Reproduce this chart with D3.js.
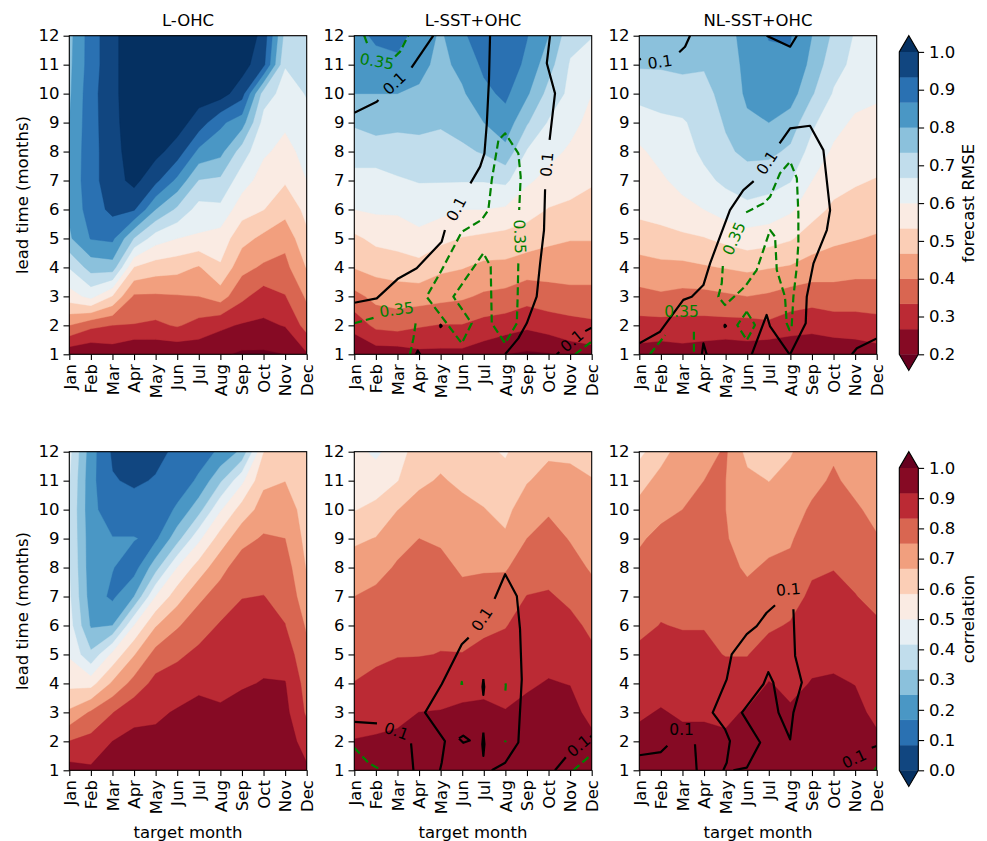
<!DOCTYPE html>
<html>
<head>
<meta charset="utf-8">
<script src="https://cdn.jsdelivr.net/npm/d3@7"></script>
<style>
  body { margin: 0; background: #fff; }
  text { font-family: "DejaVu Sans", sans-serif; fill: #000; }
</style>
</head>
<body>
<div id="chart"></div>
<script>
// ---- data ----
const months = ["Jan", "Feb", "Mar", "Apr", "May", "Jun", "Jul", "Aug", "Sep", "Oct", "Nov", "Dec"];
const leads = [1, 2, 3, 4, 5, 6, 7, 8, 9, 10, 11, 12];
const titles = ["L-OHC", "L-SST+OHC", "NL-SST+OHC"];
const rmseLevels = d3.range(13).map(i => 0.2 + i * 0.8 / 12);
const corrLevels = d3.range(13).map(i => i / 12);
const rmseTicks = [0.2, 0.3, 0.4, 0.5, 0.6, 0.7, 0.8, 0.9, 1.0];
const corrTicks = [0.0, 0.1, 0.2, 0.3, 0.4, 0.5, 0.6, 0.7, 0.8, 0.9, 1.0];

// each grid: one array per target month (Jan..Dec), values for lead 1..12
const rmseL = [
  [0.22, 0.40, 0.57, 0.67, 0.79, 0.81, 0.815, 0.81, 0.80, 0.79, 0.785, 0.78],
  [0.21, 0.35, 0.62, 0.76, 0.87, 0.90, 0.91, 0.91, 0.91, 0.91, 0.90, 0.90],
  [0.23, 0.333, 0.53, 0.77, 0.88, 0.95, 0.97, 0.97, 0.975, 0.98, 0.98, 0.98],
  [0.20, 0.33, 0.39, 0.53, 0.73, 0.94, 1.02, 1.04, 1.05, 1.05, 1.05, 1.05],
  [0.21, 0.32, 0.39, 0.50, 0.63, 0.80, 0.95, 1.02, 1.05, 1.05, 1.05, 1.05],
  [0.21, 0.34, 0.395, 0.49, 0.60, 0.72, 0.85, 0.97, 1.03, 1.05, 1.05, 1.05],
  [0.22, 0.31, 0.40, 0.46, 0.59, 0.64, 0.73, 0.85, 0.97, 1.03, 1.05, 1.05],
  [0.21, 0.28, 0.43, 0.525, 0.57, 0.65, 0.72, 0.82, 0.88, 1.03, 1.05, 1.06],
  [0.19, 0.26, 0.35, 0.42, 0.49, 0.56, 0.63, 0.70, 0.83, 0.96, 1.03, 1.06],
  [0.19, 0.255, 0.30, 0.39, 0.45, 0.535, 0.57, 0.61, 0.64, 0.70, 0.95, 0.975],
  [0.20, 0.27, 0.33, 0.38, 0.42, 0.49, 0.54, 0.58, 0.61, 0.64, 0.67, 0.71],
  [0.26, 0.36, 0.41, 0.47, 0.52, 0.55, 0.60, 0.62, 0.65, 0.67, 0.69, 0.71]
];
const rmseLS = [
  [0.21, 0.29, 0.38, 0.47, 0.52, 0.60, 0.64, 0.70, 0.74, 0.80, 0.83, 0.84],
  [0.23, 0.35, 0.42, 0.49, 0.55, 0.61, 0.64, 0.70, 0.76, 0.80, 0.84, 0.88],
  [0.23, 0.36, 0.43, 0.50, 0.56, 0.61, 0.66, 0.70, 0.75, 0.80, 0.85, 0.89],
  [0.25, 0.34, 0.43, 0.51, 0.58, 0.63, 0.67, 0.71, 0.75, 0.79, 0.82, 0.84],
  [0.25, 0.33, 0.42, 0.48, 0.55, 0.62, 0.67, 0.71, 0.74, 0.76, 0.78, 0.79],
  [0.25, 0.33, 0.41, 0.47, 0.53, 0.60, 0.67, 0.72, 0.76, 0.79, 0.82, 0.85],
  [0.23, 0.31, 0.39, 0.45, 0.52, 0.60, 0.67, 0.74, 0.80, 0.85, 0.88, 0.92],
  [0.20, 0.30, 0.38, 0.45, 0.51, 0.59, 0.68, 0.78, 0.84, 0.88, 0.91, 0.93],
  [0.19, 0.28, 0.36, 0.43, 0.50, 0.56, 0.61, 0.66, 0.74, 0.81, 0.85, 0.87],
  [0.195, 0.30, 0.37, 0.43, 0.48, 0.53, 0.58, 0.62, 0.66, 0.71, 0.76, 0.80],
  [0.23, 0.31, 0.38, 0.43, 0.47, 0.52, 0.56, 0.59, 0.62, 0.65, 0.66, 0.69],
  [0.24, 0.32, 0.38, 0.43, 0.47, 0.51, 0.54, 0.56, 0.58, 0.60, 0.63, 0.67]
];
const rmseNL = [
  [0.24, 0.31, 0.38, 0.44, 0.50, 0.55, 0.57, 0.59, 0.63, 0.69, 0.74, 0.76],
  [0.23, 0.31, 0.39, 0.45, 0.51, 0.56, 0.59, 0.62, 0.65, 0.70, 0.74, 0.76],
  [0.24, 0.31, 0.38, 0.45, 0.52, 0.58, 0.62, 0.64, 0.66, 0.70, 0.75, 0.77],
  [0.23, 0.31, 0.38, 0.46, 0.53, 0.60, 0.65, 0.68, 0.69, 0.71, 0.74, 0.76],
  [0.22, 0.31, 0.39, 0.47, 0.55, 0.63, 0.68, 0.72, 0.74, 0.76, 0.78, 0.78],
  [0.23, 0.31, 0.40, 0.48, 0.57, 0.65, 0.70, 0.75, 0.79, 0.81, 0.81, 0.82],
  [0.21, 0.32, 0.39, 0.47, 0.56, 0.64, 0.69, 0.75, 0.80, 0.84, 0.85, 0.87],
  [0.21, 0.30, 0.37, 0.46, 0.54, 0.61, 0.67, 0.72, 0.77, 0.83, 0.86, 0.87],
  [0.21, 0.29, 0.36, 0.44, 0.50, 0.56, 0.60, 0.64, 0.68, 0.74, 0.78, 0.80],
  [0.22, 0.30, 0.37, 0.43, 0.48, 0.52, 0.56, 0.59, 0.62, 0.66, 0.69, 0.72],
  [0.23, 0.30, 0.37, 0.42, 0.47, 0.51, 0.54, 0.57, 0.59, 0.62, 0.65, 0.66],
  [0.24, 0.31, 0.37, 0.42, 0.46, 0.50, 0.53, 0.56, 0.58, 0.61, 0.63, 0.65]
];
const corrL = [
  [0.95, 0.835, 0.68, 0.56, 0.49, 0.45, 0.43, 0.42, 0.41, 0.41, 0.42, 0.44],
  [0.93, 0.86, 0.76, 0.55, 0.35, 0.24, 0.21, 0.20, 0.20, 0.19, 0.19, 0.20],
  [0.96, 0.917, 0.83, 0.68, 0.52, 0.25, 0.15, 0.17, 0.17, 0.12, 0.09, 0.07],
  [0.97, 0.94, 0.89, 0.78, 0.66, 0.50, 0.25, 0.13, 0.17, 0.12, 0.07, 0.05],
  [0.98, 0.94, 0.90, 0.86, 0.78, 0.66, 0.50, 0.30, 0.15, 0.11, 0.09, 0.06],
  [0.98, 0.95, 0.925, 0.87, 0.82, 0.74, 0.63, 0.50, 0.30, 0.18, 0.12, 0.10],
  [0.98, 0.96, 0.94, 0.90, 0.85, 0.80, 0.73, 0.62, 0.48, 0.30, 0.18, 0.13],
  [0.97, 0.95, 0.925, 0.90, 0.88, 0.84, 0.79, 0.72, 0.62, 0.49, 0.32, 0.18],
  [0.97, 0.96, 0.94, 0.91, 0.89, 0.87, 0.83, 0.80, 0.72, 0.62, 0.48, 0.27],
  [0.97, 0.96, 0.94, 0.92, 0.90, 0.88, 0.835, 0.80, 0.76, 0.70, 0.65, 0.58],
  [0.97, 0.96, 0.94, 0.92, 0.88, 0.835, 0.81, 0.79, 0.75, 0.71, 0.665, 0.64],
  [0.93, 0.88, 0.82, 0.80, 0.77, 0.74, 0.70, 0.66, 0.64, 0.63, 0.62, 0.61]
];
const corrLS = [
  [0.95, 0.92, 0.88, 0.835, 0.81, 0.79, 0.75, 0.71, 0.65, 0.58, 0.55, 0.53],
  [0.95, 0.925, 0.89, 0.85, 0.82, 0.80, 0.77, 0.72, 0.67, 0.60, 0.55, 0.48],
  [0.96, 0.93, 0.90, 0.86, 0.83, 0.81, 0.79, 0.76, 0.72, 0.665, 0.58, 0.55],
  [0.97, 0.94, 0.917, 0.87, 0.83, 0.82, 0.80, 0.78, 0.75, 0.70, 0.65, 0.62],
  [0.97, 0.95, 0.92, 0.88, 0.835, 0.82, 0.80, 0.77, 0.74, 0.71, 0.675, 0.64],
  [0.97, 0.95, 0.93, 0.89, 0.835, 0.81, 0.77, 0.74, 0.71, 0.69, 0.65, 0.62],
  [0.98, 0.96, 0.93, 0.90, 0.85, 0.82, 0.77, 0.745, 0.71, 0.67, 0.63, 0.60],
  [0.97, 0.95, 0.92, 0.89, 0.86, 0.83, 0.80, 0.74, 0.68, 0.64, 0.61, 0.575],
  [0.98, 0.96, 0.93, 0.91, 0.89, 0.86, 0.835, 0.80, 0.75, 0.72, 0.66, 0.63],
  [0.98, 0.96, 0.94, 0.92, 0.90, 0.87, 0.84, 0.81, 0.78, 0.74, 0.70, 0.65],
  [0.97, 0.955, 0.935, 0.915, 0.89, 0.85, 0.82, 0.78, 0.745, 0.72, 0.69, 0.65],
  [0.96, 0.93, 0.90, 0.87, 0.845, 0.82, 0.78, 0.74, 0.72, 0.69, 0.67, 0.64]
];
const corrNL = [
  [0.96, 0.93, 0.91, 0.88, 0.845, 0.82, 0.80, 0.77, 0.74, 0.69, 0.64, 0.56],
  [0.97, 0.94, 0.92, 0.90, 0.87, 0.835, 0.82, 0.80, 0.77, 0.73, 0.69, 0.64],
  [0.96, 0.93, 0.91, 0.89, 0.85, 0.83, 0.82, 0.80, 0.78, 0.75, 0.72, 0.70],
  [0.96, 0.93, 0.91, 0.89, 0.85, 0.83, 0.82, 0.81, 0.80, 0.78, 0.75, 0.72],
  [0.96, 0.93, 0.90, 0.87, 0.83, 0.81, 0.79, 0.77, 0.755, 0.75, 0.75, 0.76],
  [0.97, 0.95, 0.925, 0.87, 0.83, 0.80, 0.77, 0.74, 0.72, 0.71, 0.69, 0.64],
  [0.98, 0.96, 0.94, 0.92, 0.87, 0.82, 0.79, 0.76, 0.73, 0.70, 0.665, 0.63],
  [0.97, 0.95, 0.925, 0.90, 0.87, 0.84, 0.80, 0.77, 0.74, 0.72, 0.69, 0.66],
  [0.98, 0.96, 0.94, 0.92, 0.90, 0.88, 0.85, 0.82, 0.80, 0.76, 0.73, 0.71],
  [0.98, 0.96, 0.94, 0.925, 0.90, 0.88, 0.86, 0.83, 0.81, 0.79, 0.76, 0.74],
  [0.97, 0.955, 0.935, 0.915, 0.89, 0.86, 0.835, 0.82, 0.80, 0.76, 0.73, 0.71],
  [0.96, 0.93, 0.90, 0.88, 0.86, 0.84, 0.82, 0.79, 0.755, 0.73, 0.71, 0.68]
];

// significance contour lines, as [month, lead] points; "k" = 0.1 (solid black), "g" = 0.35 (dashed green)
const linesRmseLS = [
  { c: "k", pts: [[1, 9.34], [2.04, 9.72], [2.12, 9.78]] },
  { c: "k", pts: [[3.65, 10.9], [4.66, 12]] },
  { c: "k", pts: [[7.29, 12], [7.24, 10.47], [7.14, 8.97], [7.03, 7.94], [6.83, 7.48], [6.38, 6.9]] },
  { c: "k", pts: [[5.2, 5.29], [5.05, 4.89], [3.89, 3.97], [3.04, 3.62], [2.04, 2.93], [1, 2.78]] },
  { c: "k", pts: [[10.07, 12], [9.92, 11.05], [10.3, 10.01], [10.05, 8.4]] },
  { c: "k", pts: [[9.84, 6.7], [9.79, 5.29], [9.61, 4.14], [9.45, 2.99], [8.99, 2.07], [8.6, 1.55], [7.99, 1]] },
  { c: "k", pts: [[10.38, 1], [10.5, 1.08]] },
  { c: "k", pts: [[11.7, 1.8], [12, 1.92]] },
  { c: "k", pts: [[4.95, 1.98], [5, 2.02], [5.05, 1.98], [5, 1.94], [4.95, 1.98]] },
  { c: "k", pts: [[3.86, 1], [3.94, 1.13], [4.05, 1]] },
  { c: "g", pts: [[1.46, 12], [1.62, 11.68]] },
  { c: "g", pts: [[2.89, 11.28], [3.12, 11.45], [3.5, 12]] },
  { c: "g", pts: [[8.6, 4.14], [8.57, 2.99], [8.53, 2.07], [7.99, 1.38], [7.37, 2.07], [7.32, 4.03], [6.98, 4.49],
                  [5.59, 2.99], [6.44, 2.07], [5.98, 1.38], [4.35, 2.99], [5.05, 3.91], [5.98, 5.23], [6.9, 5.64],
                  [7.21, 5.98], [7.37, 7.02], [7.68, 8.4], [7.99, 8.63], [8.6, 7.94], [8.71, 7.13], [8.64, 5.98]] },
  { c: "g", pts: [[1, 2.07], [1.99, 2.28]] },
  { c: "g", pts: [[3.84, 2.07], [3.74, 1.55], [3.58, 1]] },
  { c: "g", pts: [[11.23, 1], [12, 1.44]] }
];
const labelsRmseLS = [
  [2.85, 10.36, -43, "0.1", "k"], [5.72, 6.02, -62, "0.1", "k"], [9.92, 7.55, -85, "0.1", "k"],
  [11.08, 1.47, -40, "0.1", "k"], [2.05, 11.12, 10, "0.35", "g"], [8.68, 5.06, 88, "0.35", "g"],
  [2.96, 2.55, -8, "0.35", "g"]
];

const linesRmseNL = [
  { c: "k", pts: [[1, 11.18], [1.08, 11.2]] },
  { c: "k", pts: [[2.85, 11.43], [3.12, 11.62], [3.35, 12]] },
  { c: "k", pts: [[6.9, 12], [7.99, 11.62], [8.3, 12]] },
  { c: "k", pts: [[1, 1.38], [1.96, 1.78], [3.04, 2.88], [3.43, 2.99], [3.97, 3.39], [4.28, 4.14], [4.74, 5.06],
                  [5.2, 5.98], [5.82, 6.67], [6.3, 6.98]] },
  { c: "k", pts: [[7.5, 8.28], [7.99, 8.8], [8.91, 8.89], [9.53, 8.05], [9.84, 5.98], [9.69, 5.29], [9.07, 4.14],
                  [8.76, 2.99], [8.71, 2.07], [7.99, 1]] },
  { c: "k", pts: [[6.21, 1], [6.9, 2.36], [7.06, 1.96], [7.96, 1]] },
  { c: "k", pts: [[3.9, 1], [3.97, 1.38], [4.12, 1]] },
  { c: "k", pts: [[4.92, 1.98], [4.97, 2.02], [5.02, 1.98], [4.97, 1.94], [4.92, 1.98]] },
  { c: "k", pts: [[10.85, 1], [11.08, 1.21], [12, 1.55]] },
  { c: "g", pts: [[5.95, 5.9], [6.75, 6.21], [7.06, 6.44], [7.52, 7.25], [7.99, 7.65], [8.3, 7.08], [8.37, 5.87],
                  [8.37, 4.83], [8.3, 4.03], [8.14, 2.99], [8.06, 1.96], [7.96, 1.84], [7.83, 2.07], [7.75, 2.99],
                  [7.37, 3.91], [7.29, 5.06], [7.06, 5.29], [6.75, 4.6], [6.44, 3.91], [5.9, 3.34], [4.97, 2.7],
                  [4.66, 2.99], [4.82, 3.45], [4.87, 4.05]] },
  { c: "g", pts: [[5.98, 2.47], [6.36, 2.01], [5.98, 1.49], [5.54, 2.01], [5.98, 2.47]] },
  { c: "g", pts: [[1.49, 1], [2.2, 1.66]] },
  { c: "g", pts: [[3.53, 1.78], [3.53, 1]] }
];
const labelsRmseNL = [
  [1.96, 11.1, -8, "0.1", "k"], [6.9, 7.62, -56, "0.1", "k"],
  [5.38, 5.0, -66, "0.35", "g"], [2.96, 2.47, 0, "0.35", "g"]
];

const linesCorrLS = [
  { c: "k", pts: [[1, 2.67], [2.05, 2.62]] },
  { c: "k", pts: [[3.63, 1.93], [3.74, 1]] },
  { c: "k", pts: [[7.37, 1], [7.99, 1.26], [8.6, 1.96], [8.76, 4.14], [8.68, 5.87], [8.53, 7.02], [7.99, 7.77], [7.5, 6.92]] },
  { c: "k", pts: [[6.3, 5.58], [5.98, 5.35], [5.05, 3.97], [4.28, 2.99], [5.2, 2.01], [5.05, 1.26], [4.97, 1]] },
  { c: "k", pts: [[6.98, 4.15], [7.02, 3.88], [6.98, 3.6], [6.94, 3.88], [6.98, 4.15]] },
  { c: "k", pts: [[5.85, 2.1], [6.05, 2.2], [6.35, 2.03], [6.05, 1.95], [5.85, 2.1]] },
  { c: "k", pts: [[6.98, 2.3], [7.03, 1.9], [6.98, 1.5], [6.93, 1.9], [6.98, 2.3]] },
  { c: "k", pts: [[10.3, 1], [10.8, 1.45]] },
  { c: "k", pts: [[11.93, 2.14], [12, 2.19]] },
  { c: "g", pts: [[1, 1.78], [1.65, 1.26], [2.27, 1]] },
  { c: "g", pts: [[11.15, 1], [12, 1.55]] },
  { c: "g", pts: [[5.96, 3.95], [5.98, 4.05], [6.0, 3.95]] },
  { c: "g", pts: [[8.0, 3.75], [8.02, 3.95], [8.0, 4.0]] },
  { c: "g", pts: [[7.99, 1.97], [8.01, 2.03]] }
];
const labelsCorrLS = [
  [2.96, 2.36, 20, "0.1", "k"], [6.9, 6.22, -56, "0.1", "k"], [11.39, 1.85, -40, "0.1", "k"]
];

const linesCorrNL = [
  { c: "k", pts: [[1, 1.52], [2, 1.63], [2.3, 1.85]] },
  { c: "k", pts: [[3.58, 1.9], [3.66, 1]] },
  { c: "k", pts: [[7.29, 6.7], [6.9, 6.44], [6.44, 5.98], [5.98, 5.7], [5.28, 5.0], [5.05, 4.14], [4.4, 2.99],
                  [4.97, 2.42], [5.2, 2.01], [5.05, 1.26], [4.89, 1]] },
  { c: "k", pts: [[8.14, 6.56], [8.22, 4.95], [8.53, 4.03], [8.14, 2.99], [7.99, 2.07], [7.45, 2.99], [7.21, 4.03],
                  [6.98, 4.39], [6.75, 3.97], [5.75, 2.99], [6.6, 1.96], [5.98, 1.09], [5.36, 1]] },
  { c: "k", pts: [[11.77, 1.78], [12, 1.84]] },
  { c: "g", pts: [[11.88, 1], [12, 1.12]] }
];
const labelsCorrNL = [
  [2.96, 2.42, 0, "0.1", "k"], [7.9, 7.25, -5, "0.1", "k"], [10.95, 1.4, -25, "0.1", "k"]
];

// ---- layout ----
const W = 987, H = 841;
const colX = [69.3, 354.3, 639.3];
const rowY = [35.7, 451.7];
const PW = 237.4, PH = 318.6;
const EXT = 16.2;           // colorbar triangle length
const CBX = 899.3, CBW = 19;
const FS = 16.5;            // main font size
const TICK = 5.8;

// matplotlib RdBu (linear segments between the ColorBrewer anchors)
const rdbu = d3.piecewise(d3.interpolateRgb, ["#67001f", "#b2182b", "#d6604d", "#f4a582", "#fddbc7",
  "#f7f7f7", "#d1e5f0", "#92c5de", "#4393c3", "#2166ac", "#053061"]);
const cmapRmse = t => rdbu(t);
const cmapCorr = t => rdbu(1 - t);

const svg = d3.select("#chart").append("svg")
  .attr("width", W).attr("height", H)
  .style("background", "#fff");

function drawPanel(col, row, grid, levels, cmap, lines, labels) {
  const x0 = colX[col], y0 = rowY[row];
  const x = d3.scaleLinear().domain([1, 12]).range([x0, x0 + PW]);
  const y = d3.scaleLinear().domain([1, 12]).range([y0 + PH, y0]);

  // flatten grid (row = lead, column = month)
  const values = [];
  leads.forEach((_, j) => grid.forEach(colVals => values.push(colVals[j])));

  const bands = d3.contours()
    .size([12, 12])
    .thresholds([levels[0] - 10].concat(levels))(values);

  const proj = d3.geoTransform({
    point(px, py) { this.stream.point(x(px + 0.5), y(py + 0.5)); }
  });
  const path = d3.geoPath(proj);

  const clipId = "clip" + row + col;
  svg.append("clipPath").attr("id", clipId)
    .append("rect").attr("x", x0).attr("y", y0).attr("width", PW).attr("height", PH);

  const g = svg.append("g").attr("clip-path", "url(#" + clipId + ")");

  const fillFor = i => i === 0 ? cmap(0) : (i === 13 ? cmap(1) : cmap((i - 0.5) / 12));
  g.selectAll("path.band")
    .data(bands)
    .join("path")
    .attr("class", "band")
    .attr("d", path)
    .attr("fill", (d, i) => fillFor(i))
    .attr("stroke", (d, i) => fillFor(i))
    .attr("stroke-width", 0.4);

  // contour lines
  const line = d3.line().x(d => x(d[0])).y(d => y(d[1]));
  g.selectAll("path.cl")
    .data(lines)
    .join("path")
    .attr("class", "cl")
    .attr("d", d => line(d.pts))
    .attr("fill", "none")
    .attr("stroke", d => d.c === "g" ? "green" : "black")
    .attr("stroke-width", 2.2)
    .attr("stroke-dasharray", d => d.c === "g" ? "8,4" : null)
    .attr("stroke-linejoin", "round");

  g.selectAll("text.cl")
    .data(labels)
    .join("text")
    .attr("class", "cl")
    .attr("transform", d => "translate(" + x(d[0]) + "," + y(d[1]) + ") rotate(" + d[2] + ")")
    .attr("text-anchor", "middle")
    .attr("dy", "0.36em")
    .style("font-size", "15.5px")
    .style("fill", d => d[4] === "g" ? "green" : "black")
    .text(d => d[3]);

  // frame
  svg.append("rect")
    .attr("x", x0).attr("y", y0).attr("width", PW).attr("height", PH)
    .attr("fill", "none").attr("stroke", "#000").attr("stroke-width", 1.1);

  // axes
  const yAxis = svg.append("g")
    .attr("transform", "translate(" + x0 + ",0)")
    .call(d3.axisLeft(y).tickValues(leads).tickSize(TICK).tickPadding(4));
  const xAxis = svg.append("g")
    .attr("transform", "translate(0," + (y0 + PH) + ")")
    .call(d3.axisBottom(x).tickValues(leads).tickSize(TICK).tickPadding(4).tickFormat(d => months[d - 1]));

  [xAxis, yAxis].forEach(a => {
    a.select(".domain").remove();
    a.selectAll("line").attr("stroke", "#000").attr("stroke-width", 1.1);
    a.selectAll("text").style("font-size", FS + "px").attr("fill", "#000")
      .style("font-family", "DejaVu Sans, sans-serif");
  });
  xAxis.selectAll("text")
    .attr("transform", "rotate(-90)")
    .attr("text-anchor", "end")
    .attr("x", -(TICK + 4))
    .attr("y", 0)
    .attr("dy", "0.35em");

  if (row === 0) {
    svg.append("text")
      .attr("x", x0 + PW / 2).attr("y", y0 - 10)
      .attr("text-anchor", "middle")
      .style("font-size", FS + "px")
      .text(titles[col]);
  } else {
    svg.append("text")
      .attr("x", x0 + PW / 2).attr("y", 838)
      .attr("text-anchor", "middle")
      .style("font-size", FS + "px")
      .text("target month");
  }
  if (col === 0) {
    svg.append("text")
      .attr("transform", "translate(22," + (y0 + PH / 2) + ") rotate(-90)")
      .attr("text-anchor", "middle")
      .attr("dy", "0.35em")
      .style("font-size", FS + "px")
      .text("lead time (months)");
  }
}

function drawColorbar(row, levels, cmap, ticks, label) {
  const y0 = rowY[row];
  const top = y0 + EXT, bot = y0 + PH;
  const yb = d3.scaleLinear().domain([levels[0], levels[12]]).range([bot, top]);
  const g = svg.append("g");

  g.selectAll("rect")
    .data(d3.range(12))
    .join("rect")
    .attr("x", CBX).attr("width", CBW)
    .attr("y", k => yb(levels[k + 1]))
    .attr("height", k => yb(levels[k]) - yb(levels[k + 1]))
    .attr("fill", k => cmap((k + 0.5) / 12))
    .attr("stroke", k => cmap((k + 0.5) / 12))
    .attr("stroke-width", 0.4);

  g.append("path")
    .attr("d", "M" + CBX + "," + top + "L" + (CBX + CBW / 2) + "," + y0 + "L" + (CBX + CBW) + "," + top + "Z")
    .attr("fill", cmap(1));
  g.append("path")
    .attr("d", "M" + CBX + "," + bot + "L" + (CBX + CBW / 2) + "," + (bot + EXT) + "L" + (CBX + CBW) + "," + bot + "Z")
    .attr("fill", cmap(0));
  g.append("path")
    .attr("d", "M" + CBX + "," + top + "L" + (CBX + CBW / 2) + "," + y0 + "L" + (CBX + CBW) + "," + top +
      "L" + (CBX + CBW) + "," + bot + "L" + (CBX + CBW / 2) + "," + (bot + EXT) + "L" + CBX + "," + bot + "Z")
    .attr("fill", "none").attr("stroke", "#000").attr("stroke-width", 1.1);

  const ax = g.append("g")
    .attr("transform", "translate(" + (CBX + CBW) + ",0)")
    .call(d3.axisRight(yb).tickValues(ticks).tickSize(TICK).tickPadding(5).tickFormat(d3.format(".1f")));
  ax.select(".domain").remove();
  ax.selectAll("line").attr("stroke", "#000").attr("stroke-width", 1.1);
  ax.selectAll("text").style("font-size", FS + "px").attr("fill", "#000")
    .style("font-family", "DejaVu Sans, sans-serif");

  svg.append("text")
    .attr("transform", "translate(968," + ((top + bot) / 2) + ") rotate(-90)")
    .attr("text-anchor", "middle")
    .attr("dy", "0.35em")
    .style("font-size", FS + "px")
    .text(label);
}

drawPanel(0, 0, rmseL, rmseLevels, cmapRmse, [], []);
drawPanel(1, 0, rmseLS, rmseLevels, cmapRmse, linesRmseLS, labelsRmseLS);
drawPanel(2, 0, rmseNL, rmseLevels, cmapRmse, linesRmseNL, labelsRmseNL);
drawPanel(0, 1, corrL, corrLevels, cmapCorr, [], []);
drawPanel(1, 1, corrLS, corrLevels, cmapCorr, linesCorrLS, labelsCorrLS);
drawPanel(2, 1, corrNL, corrLevels, cmapCorr, linesCorrNL, labelsCorrNL);

drawColorbar(0, rmseLevels, cmapRmse, rmseTicks, "forecast RMSE");
drawColorbar(1, corrLevels, cmapCorr, corrTicks, "correlation");
</script>
</body>
</html>
